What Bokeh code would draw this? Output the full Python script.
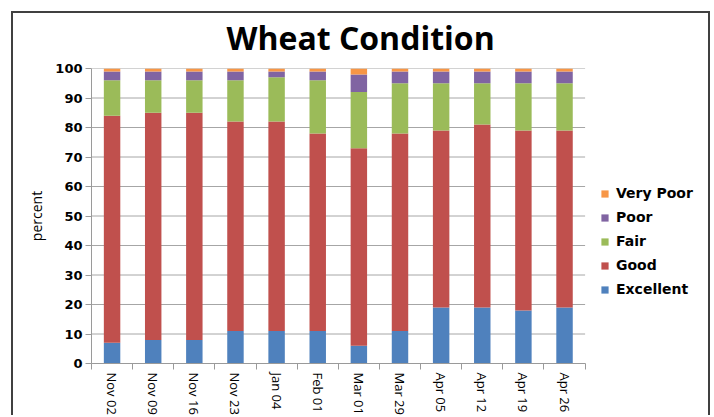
from bokeh.plotting import figure
from bokeh.models import (ColumnDataSource, FixedTicker, Legend, LegendItem,
                          Range1d, Title)
from bokeh.embed import file_html
from bokeh.resources import INLINE

# ---- data -------------------------------------------------------------
dates = ["Nov 02", "Nov 09", "Nov 16", "Nov 23", "Jan 04", "Feb 01",
         "Mar 01", "Mar 29", "Apr 05", "Apr 12", "Apr 19", "Apr 26"]
excellent = [7, 8, 8, 11, 11, 11, 6, 11, 19, 19, 18, 19]
good = [77, 77, 77, 71, 71, 67, 67, 67, 60, 62, 61, 60]
fair = [12, 11, 11, 14, 15, 18, 19, 17, 16, 14, 16, 16]
poor = [3, 3, 3, 3, 2, 3, 6, 4, 4, 4, 4, 4]
very_poor = [1, 1, 1, 1, 1, 1, 2, 1, 1, 1, 1, 1]
series = ["Excellent", "Good", "Fair", "Poor", "Very Poor"]
colors = ["#4F81BD", "#C0504D", "#9BBB59", "#8064A2", "#F79646"]
y_ticks = list(range(0, 101, 10))

# ---- figure -----------------------------------------------------------
n = len(dates)
centers = [i + 0.5 for i in range(n)]
bounds = list(range(n + 1))

src = ColumnDataSource(dict(x=centers, Excellent=excellent, Good=good,
                            Fair=fair, Poor=poor, **{"Very Poor": very_poor}))

# x range extends to the right so that the legend sits inside the frame
p = figure(width=699, height=404, x_range=Range1d(0, 15.0),
           y_range=Range1d(0, 100), title=None,
           output_backend="svg", toolbar_location=None,
           min_border_left=78, min_border_right=4, min_border_top=0,
           min_border_bottom=0)
p.margin = (11, 0, 0, 11)
p.styles = {"border-top": "2px solid #404040",
            "border-left": "2px solid #404040",
            "border-right": "2px solid #404040"}

# horizontal gridlines over the category area only
p.segment(x0=0, x1=n, y0=y_ticks, y1=y_ticks, line_color="#a6a6a6",
          line_width=1, level="underlay")

renderers = p.vbar_stack(series, x="x", width=0.4, color=colors, source=src,
                         line_width=0)

# spacer between title and plot, then the title itself
p.add_layout(Title(text=" ", text_font_size="1px", standoff=7), "above")
p.add_layout(Title(text="Wheat Condition", text_font="Open Sans",
                   text_font_size="32px", text_font_style="bold",
                   text_color="#000000", align="left", offset=135,
                   standoff=0), "above")

# y axis
p.yaxis.ticker = FixedTicker(ticks=y_ticks)
p.yaxis.axis_label = "percent"
p.yaxis.axis_label_text_font = "Open Sans"
p.yaxis.axis_label_text_font_size = "14px"
p.yaxis.axis_label_text_font_style = "normal"
p.yaxis.axis_label_text_color = "#000000"
p.yaxis.axis_label_standoff = 6
p.yaxis.major_label_text_font = "DejaVu Sans"
p.yaxis.major_label_text_font_style = "bold"
p.yaxis.major_label_text_font_size = "13px"
p.yaxis.major_label_text_color = "#000000"
p.yaxis.major_label_standoff = 3
p.yaxis.axis_line_color = "#9a9a9a"
p.yaxis.major_tick_line_color = "#9a9a9a"
p.yaxis.major_tick_out = 6
p.yaxis.major_tick_in = 0
p.yaxis.minor_tick_line_color = None

# x axis: labels at centres, tick marks between categories
p.xaxis.bounds = (0, n)
p.xaxis.ticker = FixedTicker(ticks=centers, minor_ticks=bounds)
p.xaxis.major_label_overrides = {c: d for c, d in zip(centers, dates)}
p.xaxis.major_label_orientation = "vertical"
p.xaxis.major_label_text_font = "Open Sans"
p.xaxis.major_label_text_font_size = "13px"
p.xaxis.major_label_text_color = "#000000"
p.xaxis.major_label_standoff = 3
p.xaxis.major_tick_line_color = None
p.xaxis.major_tick_out = 0
p.xaxis.major_tick_in = 0
p.xaxis.minor_tick_line_color = "#9a9a9a"
p.xaxis.minor_tick_out = 6
p.xaxis.minor_tick_in = 0
p.xaxis.axis_line_color = "#9a9a9a"

p.xgrid.grid_line_color = None
p.ygrid.grid_line_color = None
p.outline_line_color = None

legend = Legend(items=[LegendItem(label=s, renderers=[r])
                       for s, r in reversed(list(zip(series, renderers)))],
                location=(509, 65))
legend.label_text_font = "DejaVu Sans"
legend.label_text_font_style = "bold"
legend.label_text_font_size = "14px"
legend.label_text_color = "#000000"
legend.glyph_width = 9
legend.glyph_height = 9
legend.label_standoff = 7
legend.label_height = 18
legend.spacing = 6
legend.padding = 2
legend.margin = 0
legend.border_line_color = None
legend.background_fill_alpha = 0
p.add_layout(legend, "center")

open("out.html", "w").write(file_html(p, INLINE))
